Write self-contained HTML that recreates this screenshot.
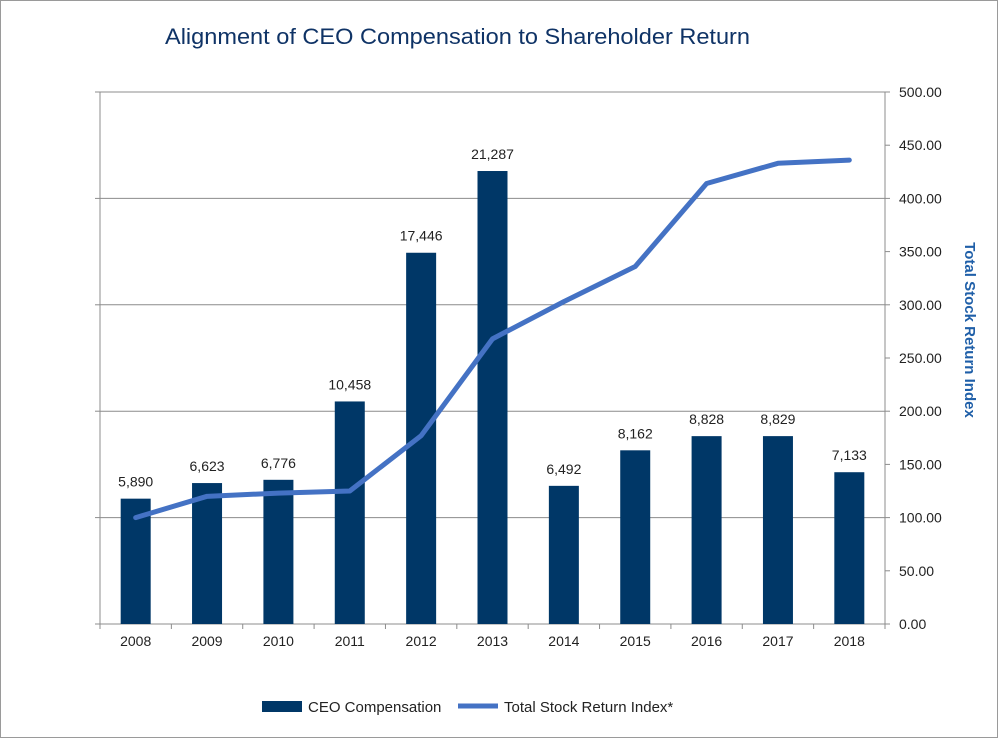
<!DOCTYPE html>
<html><head><meta charset="utf-8">
<style>
html,body{margin:0;padding:0;background:#fff;}
svg{display:block;font-family:"Liberation Sans",sans-serif;}
</style></head><body>
<svg width="998" height="738" viewBox="0 0 998 738" id="chart">
<rect x="0.5" y="0.5" width="997" height="737" fill="#fff" stroke="#9a9a9a"/>
<text x="165" y="44" font-size="22" fill="#0f3366" textLength="585" lengthAdjust="spacingAndGlyphs">Alignment of CEO Compensation to Shareholder Return</text>
<g id="grid"></g><g id="bars"></g><g id="line"></g><g id="axes"></g>
<text transform="translate(965,330) rotate(90)" text-anchor="middle" font-size="15" font-weight="bold" fill="#1f5fa8">Total Stock Return Index</text>
<g>
<rect x="262" y="701" width="40" height="11" fill="#003767"/>
<text x="308" y="712" font-size="15" fill="#222">CEO Compensation</text>
<line x1="458" y1="706" x2="498" y2="706" stroke="#4472c4" stroke-width="5"/>
<text x="504" y="712" font-size="15" fill="#222">Total Stock Return Index*</text>
</g>
</svg>
<script>
const categories=["2008","2009","2010","2011","2012","2013","2014","2015","2016","2017","2018"];
const compensation=[5890,6623,6776,10458,17446,21287,6492,8162,8828,8829,7133];
const compLabels=["5,890","6,623","6,776","10,458","17,446","21,287","6,492","8,162","8,828","8,829","7,133"];
const tsrIndex=[100,120,123,125,177,268,303,336,414,433,436];
const rightTicks=[0,50,100,150,200,250,300,350,400,450,500];
const leftGrid=[0,5000,10000,15000,20000,25000];
const NS="http://www.w3.org/2000/svg";
const L=100,R=885,T=92,B=624;
const band=(R-L)/categories.length;
const xC=i=>L+band*(i+0.5);
const yL=v=>B-(v/25000)*(B-T);
const yR=v=>B-(v/500)*(B-T);
function mk(tag,attrs,parent,txt){const e=document.createElementNS(NS,tag);for(const k in attrs)e.setAttribute(k,attrs[k]);if(txt!==undefined)e.textContent=txt;document.getElementById(parent).appendChild(e);return e;}
leftGrid.forEach(v=>{const g=mk('line',{x1:L,x2:R,y1:yL(v),y2:yL(v),stroke:'#8c8c8c','stroke-width':1},'grid');


const t=mk('line',{x1:L-5,x2:L,y1:yL(v),y2:yL(v),stroke:'#8c8c8c'},'axes');

});
const la=mk('line',{x1:L,x2:L,y1:T,y2:B,stroke:'#8c8c8c'},'axes');


const ra=mk('line',{x1:R,x2:R,y1:T,y2:B,stroke:'#8c8c8c'},'axes');


rightTicks.forEach(v=>{const t=mk('line',{x1:R,x2:R+5,y1:yR(v),y2:yR(v),stroke:'#8c8c8c'},'axes');


const l=mk('text',{x:R+14,y:yR(v)+5,'font-size':14,fill:'#222'},'axes',v.toFixed(2));

});
categories.forEach((c,i)=>{const t=mk('line',{x1:L+band*i,x2:L+band*i,y1:B,y2:B+5,stroke:'#8c8c8c'},'axes');


const l=mk('text',{x:xC(i),y:B+22,'font-size':14,fill:'#222','text-anchor':'middle'},'axes',c);


const b=mk('rect',{x:xC(i)-15,y:yL(compensation[i]),width:30,height:B-yL(compensation[i]),fill:'#003767'},'bars');


const v=mk('text',{x:xC(i),y:yL(compensation[i])-12,'font-size':14,fill:'#222','text-anchor':'middle'},'bars',compLabels[i]);

});
const tick2=mk('line',{x1:R,x2:R,y1:B,y2:B+5,stroke:'#8c8c8c'},'axes');


const pts=tsrIndex.map((v,i)=>xC(i)+','+yR(v)).join(' ');
const pl=mk('polyline',{points:pts,fill:'none',stroke:'#4472c4','stroke-width':5,'stroke-linejoin':'round','stroke-linecap':'round'},'line');


</script>
</body></html>
